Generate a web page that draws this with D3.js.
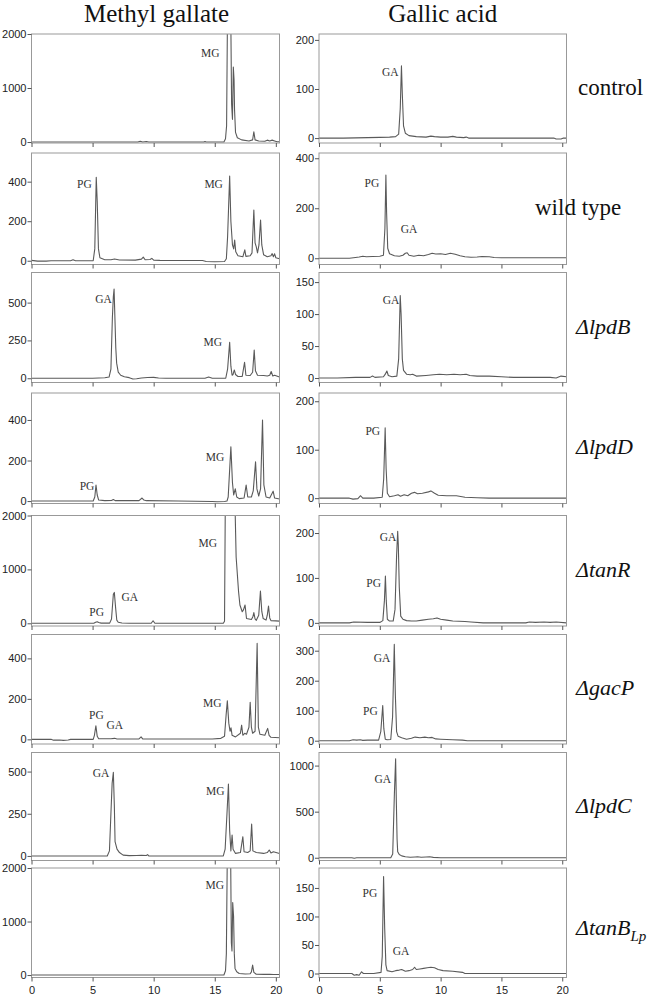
<!DOCTYPE html>
<html>
<head>
<meta charset="utf-8">
<script src="https://cdn.jsdelivr.net/npm/d3@7"></script>
<style>
  body { margin: 0; background: #fff; }
</style>
</head>
<body>
<div class="figure"></div>
<script>
const columnTitles = ['Methyl gallate', 'Gallic acid'];
const strains = ['control', 'wild type', 'ΔlpdB', 'ΔlpdD', 'ΔtanR', 'ΔgacP', 'ΔlpdC', 'ΔtanB'];
const xTicks = [0, 5, 10, 15, 20];

// chromatograms, [retention time (min), signal]
const controlMG = [[0,0],[3,0],[8.7,0],[8.9,15],[9.1,0],[9.4,10],[9.6,0],[14.1,0],[14.2,10],[14.3,0],[15.75,0],[15.88,60],[15.97,300],[16.05,2600],[16.3,2600],[16.38,700],[16.45,420],[16.52,1390],[16.58,1150],[16.62,600],[16.7,180],[16.85,80],[17.2,40],[17.8,20],[18.1,40],[18.2,190],[18.3,40],[18.6,20],[19.1,15],[19.3,35],[19.5,20],[19.7,35],[19.9,20],[20.1,5],[20.3,5]];
const controlGA = [[0,0],[2,0],[3,0.5],[4,1],[5,1.5],[5.8,2],[6.3,3],[6.55,8],[6.68,60],[6.78,147],[6.85,90],[6.95,25],[7.1,10],[7.4,5],[8,3],[8.8,2],[9.2,4],[9.5,3],[10,2],[10.6,2],[11,3.5],[11.3,2],[11.9,1],[12.1,2],[12.3,0],[19.3,0],[19.5,-2],[19.9,-2],[20.1,0],[20.35,0]];

const wildMG = [[0,2],[0.5,-2],[1.2,-2],[1.6,0],[3.2,0],[3.4,5],[3.6,0],[5.05,0],[5.18,60],[5.3,422],[5.38,300],[5.48,60],[5.6,15],[6,5],[6.5,5],[6.8,9],[7.2,4],[8.5,3],[9,8],[9.15,18],[9.3,5],[9.7,6],[9.85,12],[10,3],[10.5,2],[14,1],[14.3,-4],[15,-5],[15.8,-4],[15.95,10],[16.05,120],[16.22,428],[16.32,200],[16.45,80],[16.55,60],[16.63,105],[16.72,45],[16.9,25],[17.3,20],[17.46,55],[17.55,22],[17.9,25],[18.05,40],[18.2,256],[18.3,90],[18.4,70],[18.5,40],[18.62,80],[18.75,206],[18.85,80],[19,30],[19.3,20],[19.6,25],[19.7,36],[19.8,20],[19.9,35],[20,15],[20.3,10]];
const wildGA = [[0,0],[2.5,0],[3,3],[3.3,5],[3.6,8],[3.9,6],[4.4,7],[5,8],[5.3,12],[5.42,120],[5.5,333],[5.56,180],[5.65,40],[5.8,18],[6.2,10],[6.6,8],[6.9,12],[7.1,20],[7.25,22],[7.4,12],[7.8,8],[8.2,12],[8.6,10],[9,15],[9.3,20],[9.6,17],[10,18],[10.4,15],[10.8,20],[11.2,16],[11.6,10],[12,6],[12.5,4],[13,5],[13.4,7],[14,6],[14.4,3],[15,2],[17,2],[20.35,2]];

const lpdBMG = [[0,0],[5,0],[5.5,2],[6,3],[6.35,8],[6.5,60],[6.62,400],[6.7,540],[6.76,590],[6.82,420],[6.9,200],[6.97,100],[7.1,40],[7.3,20],[7.6,10],[8,4],[8.3,-5],[8.6,-3],[9,2],[9.5,5],[10,6],[10.4,2],[11,0],[14.2,0],[14.5,8],[14.8,0],[15.9,0],[16.05,60],[16.22,238],[16.32,80],[16.42,20],[16.5,25],[16.6,55],[16.7,25],[16.9,12],[17.25,12],[17.44,106],[17.55,20],[17.9,18],[18.1,40],[18.23,187],[18.33,50],[18.5,20],[19,18],[19.3,15],[19.5,20],[19.62,45],[19.75,15],[19.9,20],[20.3,8]];
const lpdBGA = [[0,0],[1.5,0],[3,1],[4.2,1],[4.4,3],[4.6,1],[5.3,2],[5.45,6],[5.58,11],[5.7,4],[6,2],[6.4,3],[6.55,30],[6.68,129],[6.75,100],[6.85,30],[6.95,12],[7.2,6],[7.5,5],[7.7,6],[8,3],[8.8,4],[9.4,5],[9.9,6],[10.5,5],[11.1,6],[11.6,5],[12.1,6],[12.4,4],[13,3],[14,3],[15,2],[16,1],[19,1],[19.5,0],[19.9,3],[20.35,2]];

const lpdDMG = [[0,0],[5.05,0],[5.18,20],[5.28,79],[5.38,30],[5.5,5],[6,2],[6.55,3],[6.7,8],[6.85,2],[8.8,2],[9.05,15],[9.2,5],[9.4,2],[12,0],[14.8,-2],[15.2,-3],[15.8,-2],[16,0],[16.1,20],[16.32,268],[16.45,90],[16.55,30],[16.68,60],[16.8,20],[17,12],[17.4,15],[17.57,79],[17.7,20],[18,20],[18.15,50],[18.34,194],[18.45,60],[18.6,25],[18.75,60],[18.91,400],[19.02,80],[19.2,20],[19.5,15],[19.78,49],[19.9,15],[20.3,10]];
const lpdDGA = [[0,0],[2.5,0],[2.8,-2],[3.2,-1],[3.42,5],[3.6,0],[4.5,0],[5.2,2],[5.32,40],[5.44,145],[5.52,60],[5.62,10],[5.8,3],[6.2,5],[6.5,7],[6.7,4],[7,7],[7.3,5],[7.6,10],[7.85,12],[8.1,9],[8.5,10],[9,13],[9.2,15],[9.5,10],[9.8,6],[10.5,5],[11.3,5],[12,2],[13,1],[14,0],[20.35,0]];

const tanRMG = [[0,0],[5.1,0],[5.25,20],[5.38,30],[5.5,15],[5.7,3],[6.4,3],[6.55,80],[6.7,540],[6.78,573],[6.88,300],[6.98,60],[7.1,20],[7.4,5],[8,0],[9.8,0],[9.95,48],[10.1,0],[15.7,0],[15.8,40],[15.88,2800],[16.6,2800],[16.75,1230],[16.95,585],[17.06,340],[17.25,215],[17.35,250],[17.48,340],[17.6,90],[18,70],[18.12,120],[18.2,200],[18.3,80],[18.4,55],[18.6,150],[18.74,600],[18.85,220],[18.96,90],[19.2,60],[19.3,150],[19.4,320],[19.5,100],[19.6,50],[20,45],[20.3,40]];
const tanRGA = [[0,0],[2.5,0],[2.85,2],[4,1],[5,1],[5.25,5],[5.38,50],[5.46,104],[5.53,50],[5.62,8],[5.8,4],[6.1,4],[6.25,30],[6.38,150],[6.47,204],[6.52,175],[6.6,80],[6.72,15],[6.9,8],[7.2,5],[7.6,4],[8,4],[8.5,6],[9,8],[9.4,9],[9.7,11],[10,8],[10.5,6],[11,4],[12,3],[12.5,2],[13.5,0],[17,0],[17.3,2],[17.8,1],[18.5,2],[19,1],[19.5,2],[20.35,0]];

const gacPMG = [[0,0],[1.6,0],[1.8,-4],[2.3,-3],[2.6,-5],[3,-3],[3.2,0],[5.05,0],[5.15,20],[5.27,67],[5.38,15],[5.5,3],[6.5,3],[6.8,5],[7,2],[8.8,2],[8.97,12],[9.1,2],[14.8,2],[15.5,5],[15.8,15],[15.93,120],[16.03,191],[16.15,80],[16.25,40],[16.33,57],[16.42,20],[16.7,12],[17.1,30],[17.2,70],[17.3,20],[17.45,30],[17.6,25],[17.8,60],[17.9,183],[18,60],[18.1,30],[18.3,40],[18.47,474],[18.57,60],[18.7,25],[19.1,20],[19.33,54],[19.45,20],[19.6,10],[20.3,8]];
const gacPGA = [[0,0],[2.5,0],[2.8,3],[3.1,2],[3.4,3],[3.6,1],[4,2],[4.9,2],[5.08,30],[5.24,117],[5.33,40],[5.45,5],[5.6,3],[5.9,4],[6.05,80],[6.19,321],[6.28,150],[6.38,30],[6.5,15],[6.8,10],[7.2,5],[7.6,8],[7.9,12],[8.3,10],[8.7,12],[9,10],[9.3,11],[9.6,6],[10,5],[11,3],[11.8,2],[12.2,0],[20.35,0]];

const lpdCMG = [[0,0],[6.2,0],[6.38,30],[6.5,250],[6.6,430],[6.7,495],[6.78,300],[6.84,85],[7,40],[7.2,20],[7.5,5],[8,2],[8.6,3],[9,4],[9.4,3],[9.5,8],[9.6,0],[15.7,0],[15.85,40],[16,250],[16.12,426],[16.22,150],[16.32,30],[16.42,124],[16.5,40],[16.7,15],[17.1,20],[17.3,114],[17.4,25],[17.7,20],[17.9,30],[18.02,189],[18.12,30],[18.4,20],[19,15],[19.3,20],[19.46,35],[19.6,18],[19.8,25],[20.3,15]];
const lpdCGA = [[0,0],[2.7,0],[2.9,-5],[3.1,0],[5.9,0],[6.06,40],[6.2,700],[6.3,1073],[6.36,600],[6.42,200],[6.47,65],[6.6,35],[6.8,20],[7.1,10],[7.5,5],[7.9,8],[8.1,10],[8.4,5],[8.8,8],[9.1,10],[9.4,4],[10,0],[20.35,0]];

const tanBMG = [[0,0],[15.75,0],[15.88,80],[15.95,400],[16.05,2800],[16.28,2800],[16.36,600],[16.41,450],[16.47,1356],[16.54,1100],[16.6,400],[16.66,124],[16.8,60],[17,30],[17.5,20],[17.9,25],[18,60],[18.1,185],[18.2,50],[18.4,15],[19,12],[19.5,15],[19.8,10],[20.3,10]];
const tanBGA = [[0,0],[2.7,0],[2.9,-3],[3.1,-2],[3.3,-3],[3.5,3],[3.65,0],[4.5,0],[5.1,2],[5.2,30],[5.31,170],[5.4,80],[5.5,15],[5.6,5],[6,3],[6.3,5],[6.6,6],[6.8,7],[7.1,4],[7.4,5],[7.7,7],[7.86,11],[8,7],[8.3,8],[8.6,9],[8.9,10],[9.2,11],[9.5,10],[9.8,7],[10.2,5],[11,4],[11.8,2],[12,0],[20.35,0]];

const mgTraces = [controlMG, wildMG, lpdBMG, lpdDMG, tanRMG, gacPMG, lpdCMG, tanBMG];
const gaTraces = [controlGA, wildGA, lpdBGA, lpdDGA, tanRGA, gacPGA, lpdCGA, tanBGA];

// y extents [min, max] and tick values for each panel
const mgYDomain = [[-18, 2000], [-19, 545], [-28, 699], [-12, 533], [-50, 2000], [-23, 518], [-27, 613], [-46, 2000]];
const gaYDomain = [[-10, 212], [-25, 421], [-7, 165], [-11, 217], [-7, 239], [-11, 354], [-30, 1142], [-7, 185]];
const mgYTicks = [[0, 1000, 2000], [0, 200, 400], [0, 250, 500], [0, 200, 400], [0, 1000, 2000], [0, 200, 400], [0, 250, 500], [0, 1000, 2000]];
const gaYTicks = [[0, 100, 200], [0, 200, 400], [0, 50, 100, 150], [0, 100, 200], [0, 100, 200], [0, 100, 200, 300], [0, 500, 1000], [0, 50, 100, 150]];

// peak annotations: [text, time, signal, anchor]
const mgPeakLabels = [
    [['MG', 15.4, 1572, 'end']],
    [['PG', 4.93, 366, 'end'], ['MG', 15.67, 366, 'end']],
    [['GA', 6.57, 496, 'end'], ['MG', 15.59, 215, 'end']],
    [['PG', 5.15, 53, 'end'], ['MG', 15.78, 198, 'end']],
    [['PG', 5.94, 140, 'end'], ['GA', 7.36, 418, 'start'], ['MG', 15.19, 1417, 'end']],
    [['PG', 5.92, 99, 'end'], ['GA', 6.14, 51, 'start'], ['MG', 15.55, 161, 'end']],
    [['GA', 6.38, 466, 'end'], ['MG', 15.8, 361, 'end']],
    [['MG', 15.76, 1604, 'end']]
];
const gaPeakLabels = [
    [['GA', 6.55, 126, 'end']],
    [['PG', 4.96, 286, 'end'], ['GA', 8.09, 100, 'end']],
    [['GA', 6.61, 116, 'end']],
    [['PG', 5.03, 130, 'end']],
    [['PG', 5.1, 80, 'end'], ['GA', 6.36, 183, 'end']],
    [['PG', 4.83, 86, 'end'], ['GA', 5.87, 261, 'end']],
    [['GA', 5.92, 815, 'end']],
    [['PG', 4.79, 135, 'end'], ['GA', 6.07, 32, 'start']]
];

const settings = {
    width: 660,
    height: 997,
    rowTop: [34, 153, 272.5, 393, 515.5, 634.5, 752.5, 868],
    rowBottom: [143, 264.5, 382.5, 503.5, 626, 744, 860.5, 977.5],
    colLeft: [31.5, 319],
    colRight: [279.5, 566.5],
    xMax: [20.3, 20.35],
    labelX: [578, 535, 576, 576, 576, 576, 576, 576]
};

const svg = d3.select('.figure')
    .append('svg')
    .attr('width', settings.width)
    .attr('height', settings.height)
    .style('font-family', '"Liberation Sans", Arial, sans-serif');

svg.selectAll('text.coltitle')
    .data(columnTitles)
    .enter()
    .append('text')
    .attr('class', 'coltitle')
    .attr('x', (d, i) => (settings.colLeft[i] + settings.colRight[i]) / 2 - (i ? 0 : -1))
    .attr('y', 22)
    .attr('text-anchor', 'middle')
    .style('font-family', '"Liberation Serif", "Times New Roman", serif')
    .style('font-size', '25px')
    .attr('fill', '#111')
    .text(d => d);

const line = d3.line();

function drawPanel(row, col, trace, yDomain, yTicks, peaks) {
    const top = settings.rowTop[row];
    const bottom = settings.rowBottom[row];
    const left = settings.colLeft[col];
    const right = settings.colRight[col];

    const x = d3.scaleLinear().domain([0, settings.xMax[col]]).range([left, right]);
    const y = d3.scaleLinear().domain(yDomain).range([bottom, top]);

    const g = svg.append('g');
    const clipId = 'clip-' + row + '-' + col;
    g.append('clipPath')
        .attr('id', clipId)
        .append('rect')
        .attr('x', left)
        .attr('y', top)
        .attr('width', right - left)
        .attr('height', bottom - top);

    g.append('path')
        .datum(trace)
        .attr('clip-path', 'url(#' + clipId + ')')
        .attr('fill', 'none')
        .attr('stroke', '#5a5a5a')
        .attr('stroke-width', 1.1)
        .attr('stroke-linejoin', 'round')
        .attr('d', line.x(d => x(d[0])).y(d => y(d[1])));

    g.append('rect')
        .attr('x', left)
        .attr('y', top)
        .attr('width', right - left)
        .attr('height', bottom - top)
        .attr('fill', 'none')
        .attr('stroke', '#999')
        .attr('stroke-width', 1);

    const yAxis = g.append('g')
        .attr('transform', 'translate(' + left + ',0)')
        .call(d3.axisLeft(y).tickValues(yTicks).tickSize(4).tickPadding(1).tickFormat(d3.format('d')));
    yAxis.select('.domain').remove();
    yAxis.selectAll('line').attr('stroke', '#555');
    yAxis.selectAll('text').attr('fill', '#222').style('font-size', '11px')
        .style('font-family', '"Liberation Sans", Arial, sans-serif');

    const xAxis = g.append('g')
        .attr('transform', 'translate(0,' + bottom + ')')
        .call(d3.axisBottom(x).tickValues(xTicks).tickSize(4).tickPadding(5));
    xAxis.select('.domain').remove();
    xAxis.selectAll('line').attr('stroke', '#555');
    xAxis.selectAll('text')
        .attr('fill', '#222')
        .style('font-size', '11px')
        .style('font-family', '"Liberation Sans", Arial, sans-serif')
        .style('display', row === strains.length - 1 ? null : 'none');

    g.selectAll('text.peak')
        .data(peaks)
        .enter()
        .append('text')
        .attr('class', 'peak')
        .attr('x', d => x(d[1]))
        .attr('y', d => y(d[2]))
        .attr('text-anchor', d => d[3])
        .style('font-family', '"Liberation Serif", "Times New Roman", serif')
        .style('font-size', '11.5px')
        .attr('fill', '#333')
        .text(d => d[0]);
}

strains.forEach((s, i) => {
    drawPanel(i, 0, mgTraces[i], mgYDomain[i], mgYTicks[i], mgPeakLabels[i]);
    drawPanel(i, 1, gaTraces[i], gaYDomain[i], gaYTicks[i], gaPeakLabels[i]);
});

const rowLabels = svg.selectAll('text.strain')
    .data(strains)
    .enter()
    .append('text')
    .attr('class', 'strain')
    .attr('x', (d, i) => settings.labelX[i])
    .attr('y', (d, i) => (settings.rowTop[i] + settings.rowBottom[i]) / 2 + (i === strains.length - 1 ? 12 : 6))
    .style('font-family', '"Liberation Serif", "Times New Roman", serif')
    .style('font-size', (d, i) => i < 2 ? '23px' : '22px')
    .style('font-style', (d, i) => i < 2 ? 'normal' : 'italic')
    .attr('fill', '#111')
    .text(d => d);

// subscript on the last strain name
rowLabels.filter((d, i) => i === strains.length - 1)
    .append('tspan')
    .attr('dy', 6)
    .style('font-size', '15px')
    .text('Lp');
</script>
</body>
</html>
